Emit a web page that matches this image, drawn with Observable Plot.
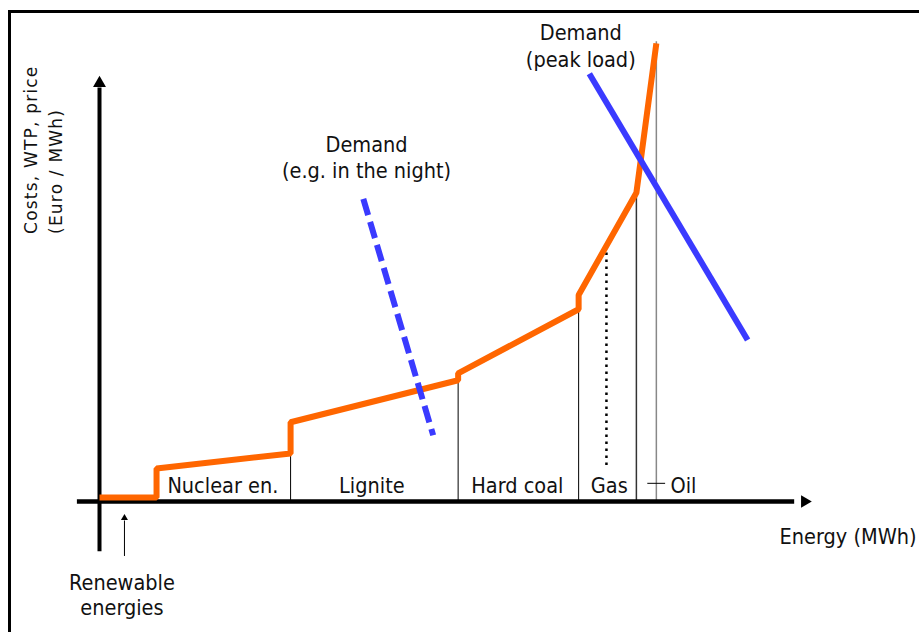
<!DOCTYPE html>
<html><head><meta charset="utf-8">
<script src="https://cdn.jsdelivr.net/npm/d3@7"></script>
<script src="https://cdn.jsdelivr.net/npm/@observablehq/plot@0.6"></script>
<style>
body{margin:0;background:#fff;}
#wrap{position:relative;width:919px;height:632px;overflow:hidden;background:#fff;}
#frame{position:absolute;left:8px;top:10px;right:-10px;bottom:-10px;border-left:3px solid #000;border-top:3px solid #000;pointer-events:none;}
.ylab text{letter-spacing:1.2px;}
</style></head><body>
<div id="wrap"><div id="chart"></div><div id="frame"></div></div>
<script>
// ---- Data (abstract units: energy 0..100, cost 0..100) ----
// Merit-order supply curve (orange)
const supplyEnergy = [0, 8.0, 8.0, 26.8, 26.8, 50.3, 50.3, 67.2, 67.2, 75.3, 78.1];
const supplyCost   = [0.93, 0.93, 7.6, 11.1, 18.3, 28.0, 29.6, 44.4, 47.7, 71.3, 105.8];
// Capacity boundaries (end of each technology block)
const boundaryEnergy = [26.8, 50.3, 67.2, 75.3, 78.1];
const boundaryCost   = [11.1, 28.0, 44.4, 71.3, 106.2];
// Technology labels
const techNames  = ["Nuclear en.", "Lignite", "Hard coal", "Gas", "Oil"];
const techCenter = [17.3, 38.2, 58.6, 71.5, 81.9];
// Gas dotted marker
const gasEnergy = [71.1];
const gasCostRange = [8.3, 58.3];
// Demand curves
const nightEnergy = [37.0, 46.8];
const nightPrice  = [69.9, 15.3];
const peakEnergy  = [68.7, 90.9];
const peakPrice   = [98.8, 37.3];
// Texts
const nightLabel = ["Demand", "(e.g. in the night)"];
const peakLabel  = ["Demand", "(peak load)"];
const yLabel = ["Costs, WTP, price", "(Euro / MWh)"];
const xLabel = "Energy (MWh)";
const renewLabel = ["Renewable", "energies"];

const supply = supplyEnergy.map((e, i) => ({energy: e, cost: supplyCost[i]}));
const night = nightEnergy.map((e, i) => ({energy: e, price: nightPrice[i]}));
const peak = peakEnergy.map((e, i) => ({energy: e, price: peakPrice[i]}));
const bounds = boundaryEnergy.map((e, i) => ({energy: e, top: boundaryCost[i]}));

const mainFont = "'DejaVu Sans Condensed', 'DejaVu Sans', sans-serif";
const fs = 21.5;

const chart = Plot.plot({
  width: 919, height: 632,
  marginLeft: 99, marginRight: 107, marginTop: 68, marginBottom: 131,
  x: {domain: [0, 100], axis: null},
  y: {domain: [0, 100], axis: null},
  style: {background: "transparent", overflow: "visible", fontFamily: mainFont},
  marks: [
    // capacity boundaries
    Plot.ruleX(bounds.slice(0, 3), {x: "energy", y1: 0, y2: "top", stroke: "#000", strokeWidth: 1}),
    Plot.ruleX(bounds.slice(3, 4), {x: "energy", y1: 0, y2: "top", stroke: "#333", strokeWidth: 1.5}),
    Plot.ruleX(bounds.slice(4, 5), {x: "energy", y1: 0, y2: "top", stroke: "#888", strokeWidth: 1.5}),
    // gas dotted
    Plot.ruleX(gasEnergy, {x: d => d, y1: gasCostRange[0], y2: gasCostRange[1], stroke: "#000", strokeWidth: 2.5, strokeDasharray: "2.5,4.5"}),
    // oil tick
    Plot.ruleY([4.2], {y: d => d, x1: 76.9, x2: 79.4, stroke: "#000", strokeWidth: 1}),
    // axes
    Plot.ruleX([0], {x: d => d, y1: -11.6, y2: 95.5, stroke: "#000", strokeWidth: 4}),
    Plot.ruleY([0], {y: d => d, x1: -3.1, x2: 97.5, stroke: "#000", strokeWidth: 4.5}),
    Plot.dot([0], {x: d => d, y: 96.6, symbol: "triangle", r: 4.8, fill: "#000", stroke: null}),
    Plot.dot([0], {x: 98.9, y: d => d, symbol: "triangle", r: 4.6, fill: "#000", stroke: null, rotate: 90}),
    // renewable arrow
    Plot.ruleX([3.5], {x: d => d, y1: -12.7, y2: -4.5, stroke: "#000", strokeWidth: 1}),
    Plot.dot([3.5], {x: d => d, y: -3.8, symbol: "triangle", r: 2.6, fill: "#000", stroke: null}),
    // supply curve
    Plot.line(supply, {x: "energy", y: "cost", stroke: "#ff6600", strokeWidth: 6, strokeLinejoin: "miter", strokeLinecap: "butt"}),
    // demand curves
    Plot.line(night, {x: "energy", y: "price", stroke: "#3a3aff", strokeWidth: 6, strokeDasharray: "17,7", strokeLinecap: "butt"}),
    Plot.line(peak, {x: "energy", y: "price", stroke: "#3a3aff", strokeWidth: 6, strokeLinecap: "butt"}),
    // technology labels
    Plot.text(techNames, {x: techCenter, y: 3.5, text: d => d, fontSize: fs, fill: "#111"}),
    // demand labels
    Plot.text(nightLabel, {x: 37.45, y: [82.4, 76.2], text: d => d, fontSize: fs, fill: "#111"}),
    Plot.text(peakLabel, {x: 67.5, y: [108.1, 101.9], text: d => d, fontSize: fs, fill: "#111"}),
    // axis labels
    Plot.text([xLabel], {x: 114.6, y: -8.3, text: d => d, textAnchor: "end", fontSize: fs, fill: "#111"}),
    Plot.text(renewLabel, {x: 3.15, y: [-18.75, -24.6], text: d => d, fontSize: fs, fill: "#111"}),
    Plot.text(yLabel, {x: [-9.5, -6.0], y: 61.8, text: d => d, rotate: -90, textAnchor: "start", fontSize: 17, fontFamily: "'DejaVu Sans', sans-serif", fill: "#111", className: "ylab"})
  ]
});
document.getElementById("chart").appendChild(chart);
</script>
</body></html>
